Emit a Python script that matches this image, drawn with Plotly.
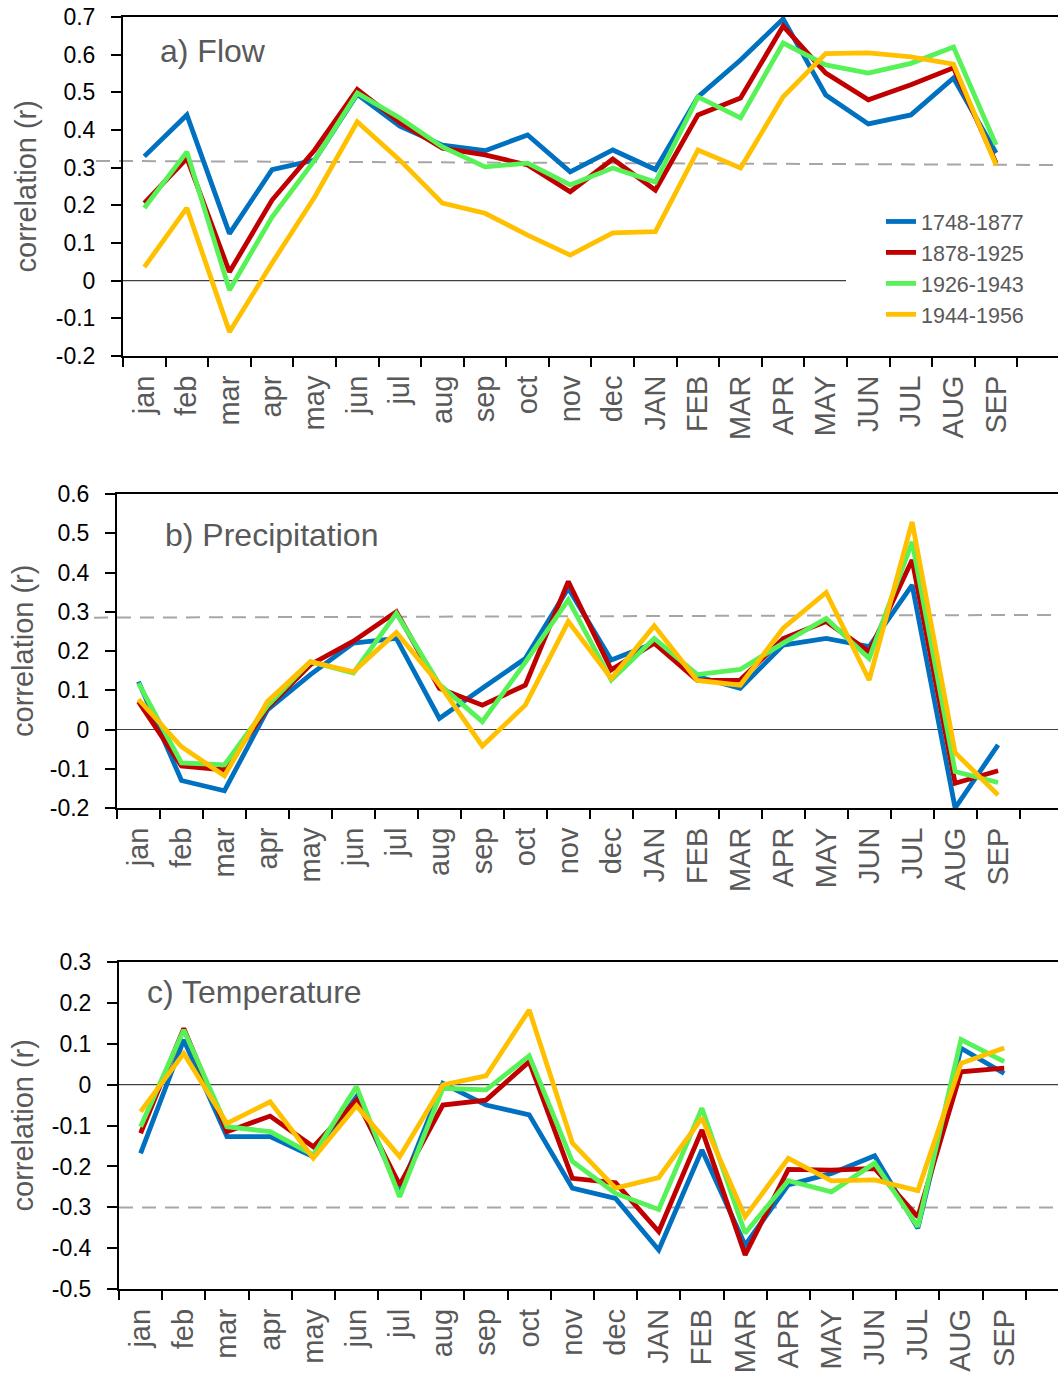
import plotly.graph_objects as go

# ---------------- data ----------------
months = ["jan", "feb", "mar", "apr", "may", "jun", "jul", "aug", "sep", "oct", "nov", "dec",
          "JAN", "FEB", "MAR", "APR", "MAY", "JUN", "JUL", "AUG", "SEP"]
periods = ["1748-1877", "1878-1925", "1926-1943", "1944-1956"]

flow_1748_1877 = [0.33, 0.44, 0.125, 0.295, 0.32, 0.495, 0.41, 0.36, 0.345, 0.387, 0.289,
                  0.347, 0.295, 0.488, 0.586, 0.695, 0.493, 0.416, 0.44, 0.538, 0.339]
flow_1878_1925 = [0.206, 0.325, 0.023, 0.214, 0.347, 0.508, 0.42, 0.352, 0.334, 0.307, 0.236,
                  0.323, 0.24, 0.44, 0.485, 0.676, 0.551, 0.48, 0.52, 0.565, 0.312]
flow_1926_1943 = [0.193, 0.342, -0.025, 0.169, 0.32, 0.498, 0.432, 0.355, 0.302, 0.312, 0.254,
                  0.299, 0.262, 0.488, 0.432, 0.631, 0.573, 0.551, 0.577, 0.62, 0.36]
flow_1944_1956 = [0.036, 0.193, -0.136, 0.047, 0.222, 0.422, 0.32, 0.206, 0.179, 0.121, 0.068,
                  0.127, 0.13, 0.347, 0.299, 0.488, 0.603, 0.605, 0.594, 0.575, 0.307]

prec_1748_1877 = [0.122, -0.130, -0.156, 0.05, 0.14, 0.22, 0.232, 0.028, 0.105, 0.181, 0.36,
                  0.177, 0.22, 0.135, 0.105, 0.215, 0.232, 0.211, 0.368, -0.2, -0.039]
prec_1878_1925 = [0.071, -0.093, -0.103, 0.055, 0.165, 0.225, 0.30, 0.105, 0.062, 0.113, 0.377,
                  0.152, 0.22, 0.125, 0.126, 0.232, 0.275, 0.198, 0.432, -0.137, -0.105]
prec_1926_1943 = [0.118, -0.085, -0.09, 0.06, 0.173, 0.144, 0.296, 0.115, 0.02, 0.171, 0.33,
                  0.126, 0.232, 0.14, 0.153, 0.22, 0.283, 0.181, 0.478, -0.107, -0.135]
prec_1944_1956 = [0.077, -0.044, -0.118, 0.071, 0.173, 0.147, 0.247, 0.115, -0.042, 0.062, 0.275,
                  0.13, 0.264, 0.125, 0.113, 0.258, 0.349, 0.126, 0.529, -0.059, -0.167]

temp_1748_1877 = [-0.168, 0.109, -0.127, -0.127, -0.176, -0.03, -0.26, 0.003, -0.05, -0.074, -0.253,
                  -0.278, -0.404, -0.16, -0.392, -0.245, -0.217, -0.174, -0.351, 0.089, 0.027]
temp_1878_1925 = [-0.119, 0.137, -0.115, -0.077, -0.152, -0.038, -0.245, -0.05, -0.038, 0.056, -0.229,
                  -0.24, -0.359, -0.111, -0.416, -0.207, -0.209, -0.205, -0.323, 0.031, 0.04]
temp_1926_1943 = [-0.103, 0.133, -0.103, -0.115, -0.172, -0.005, -0.274, -0.009, -0.013, 0.07, -0.188,
                  -0.266, -0.305, -0.058, -0.363, -0.235, -0.262, -0.192, -0.347, 0.11, 0.056]
temp_1944_1956 = [-0.066, 0.076, -0.095, -0.042, -0.18, -0.052, -0.176, -0.001, 0.021, 0.182, -0.143,
                  -0.253, -0.227, -0.082, -0.323, -0.18, -0.235, -0.233, -0.259, 0.052, 0.089]

# significance thresholds (left end, right end)
flow_threshold = [0.318, 0.307]
prec_threshold = [0.285, 0.292]
temp_threshold = [-0.30, -0.30]

panel_titles = ["a) Flow", "b) Precipitation", "c) Temperature"]
y_title = "correlation (r)"

flow_ticks = [0.7, 0.6, 0.5, 0.4, 0.3, 0.2, 0.1, 0.0, -0.1, -0.2]
flow_ticktext = ["0.7", "0.6", "0.5", "0.4", "0.3", "0.2", "0.1", "0", "-0.1", "-0.2"]
prec_ticks = [0.6, 0.5, 0.4, 0.3, 0.2, 0.1, 0.0, -0.1, -0.2]
prec_ticktext = ["0.6", "0.5", "0.4", "0.3", "0.2", "0.1", "0", "-0.1", "-0.2"]
temp_ticks = [0.3, 0.2, 0.1, 0.0, -0.1, -0.2, -0.3, -0.4, -0.5]
temp_ticktext = ["0.3", "0.2", "0.1", "0", "-0.1", "-0.2", "-0.3", "-0.4", "-0.5"]

# ---------------- styling / layout ----------------
W, H = 1058, 1376
FONT = "Liberation Sans, Arial, sans-serif"
GRAY = "#595959"
colors = ["#0070C0", "#C00000", "#57F257", "#FFC000"]

panels = [
    dict(series=[flow_1748_1877, flow_1878_1925, flow_1926_1943, flow_1944_1956],
         left=123, top=17, bottom=356, yr=[-0.2, 0.7], step=42.59,
         ticks=flow_ticks, ticktext=flow_ticktext, thr=flow_threshold, thr_x0=96,
         zero_x1=846, title_x=158, title_y=51, ytitle_x=25),
    dict(series=[prec_1748_1877, prec_1878_1925, prec_1926_1943, prec_1944_1956],
         left=117, top=494, bottom=808, yr=[-0.2, 0.6], step=42.98,
         ticks=prec_ticks, ticktext=prec_ticktext, thr=prec_threshold, thr_x0=94,
         zero_x1=W, title_x=163, title_y=535, ytitle_x=23),
    dict(series=[temp_1748_1877, temp_1878_1925, temp_1926_1943, temp_1944_1956],
         left=119, top=961.7, bottom=1289.3, yr=[-0.5, 0.3], step=43.18,
         ticks=temp_ticks, ticktext=temp_ticktext, thr=temp_threshold, thr_x0=119,
         zero_x1=W, title_x=145, title_y=992, ytitle_x=22),
]

fig = go.Figure()
shapes = []
annotations = []
layout_axes = {}

for k, p in enumerate(panels):
    sfx = "" if k == 0 else str(k + 1)
    xa, ya = "x" + sfx, "y" + sfx
    for j, (vals, name) in enumerate(zip(p["series"], periods)):
        fig.add_trace(go.Scatter(
            x=months, y=vals, name=name, mode="lines",
            line=dict(color=colors[j], width=4.8),
            xaxis=xa, yaxis=ya, showlegend=(k == 0), legendrank=j,
        ))
    x_end = -0.5 + (W - p["left"]) / p["step"]
    layout_axes["xaxis" + sfx] = dict(
        domain=[p["left"] / W, 1.0], anchor=ya, type="category",
        categoryorder="array", categoryarray=months,
        range=[-0.5, x_end], tickson="boundaries",
        ticks="outside", ticklen=9, tickwidth=2, tickcolor="black",
        tickangle=-90, tickfont=dict(family=FONT, size=29, color=GRAY),
        ticklabelstandoff=6,
        showline=True, linecolor="black", linewidth=2, mirror=True,
        showgrid=False, zeroline=False, automargin=False, fixedrange=True,
    )
    layout_axes["yaxis" + sfx] = dict(
        domain=[1 - p["bottom"] / H, 1 - p["top"] / H], anchor=xa,
        range=p["yr"], tickmode="array", tickvals=p["ticks"], ticktext=p["ticktext"],
        ticks="outside", ticklen=10, tickwidth=1.5, tickcolor="black",
        tickfont=dict(family=FONT, size=23, color="black"), ticklabelstandoff=11,
        showline=True, linecolor="black", linewidth=2, mirror=False,
        showgrid=False, zeroline=False, automargin=False, fixedrange=True,
    )
    # zero line
    shapes.append(dict(type="line", xref="paper", yref=ya,
                       x0=p["left"] / W, x1=p["zero_x1"] / W, y0=0, y1=0,
                       line=dict(color="#404040", width=1.2), layer="below"))
    # significance threshold
    shapes.append(dict(type="line", xref="paper", yref=ya,
                       x0=p["thr_x0"] / W, x1=1.0, y0=p["thr"][0], y1=p["thr"][1],
                       line=dict(color="#A6A6A6", width=2, dash="14px,9px"), layer="below"))
    annotations.append(dict(text=panel_titles[k], xref="paper", yref="paper",
                            x=p["title_x"] / W, y=1 - p["title_y"] / H,
                            xanchor="left", yanchor="middle", showarrow=False,
                            font=dict(family=FONT, size=32, color=GRAY)))
    annotations.append(dict(text=y_title, xref="paper", yref="paper",
                            x=p["ytitle_x"] / W, y=1 - (p["top"] + p["bottom"]) / 2 / H,
                            xanchor="center", yanchor="middle", textangle=-90, showarrow=False,
                            font=dict(family=FONT, size=29, color=GRAY)))

fig.update_layout(
    width=W, height=H, margin=dict(l=0, r=0, t=0, b=0),
    paper_bgcolor="white", plot_bgcolor="white",
    font=dict(family=FONT),
    shapes=shapes, annotations=annotations,
    legend=dict(x=881 / W, y=1 - 201 / H, xanchor="left", yanchor="top",
                xref="paper", yref="paper",
                bgcolor="white", borderwidth=0, tracegroupgap=0,
                font=dict(family=FONT, size=21.5, color=GRAY)),
    **layout_axes,
)

fig.write_html("out.html")
